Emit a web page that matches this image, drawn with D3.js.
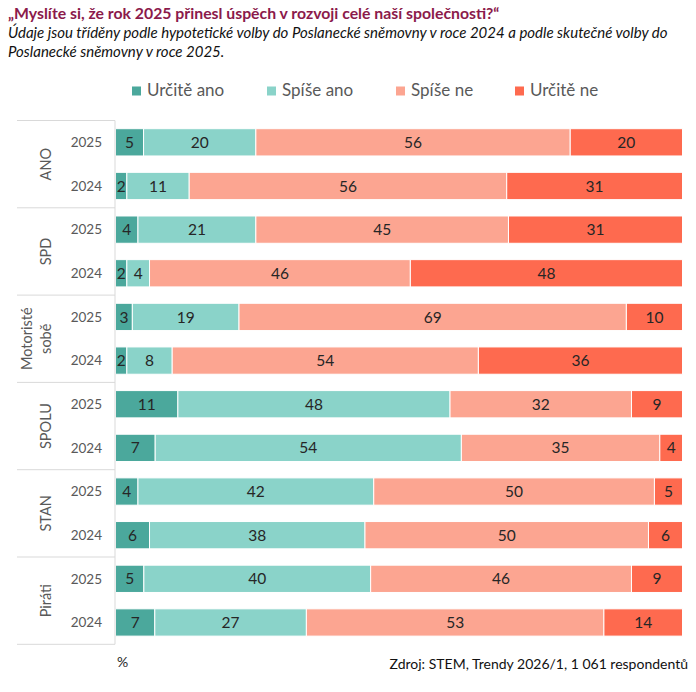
<!DOCTYPE html>
<html>
<head>
<meta charset="utf-8">
<script src="https://cdn.jsdelivr.net/npm/d3@7"></script>
<style>
  body { margin: 0; background: #fff; }
  svg { font-family: Lato, "Open Sans", sans-serif; }
</style>
</head>
<body>
<div id="chart"></div>
<script>
var groups = ["ANO", "SPD", "Motoristé sobě", "SPOLU", "STAN", "Piráti"];
var years = ["2025", "2024"];
var categories = ["Určitě ano", "Spíše ano", "Spíše ne", "Určitě ne"];

// one value per row, rows go group by group, 2025 first
var urciteAno = [5, 2, 4, 2, 3, 2, 11, 7, 4, 6, 5, 7];
var spiseAno  = [20, 11, 21, 4, 19, 8, 48, 54, 42, 38, 40, 27];
var spiseNe   = [56, 56, 45, 46, 69, 54, 32, 35, 50, 50, 46, 53];
var urciteNe  = [20, 31, 31, 48, 10, 36, 9, 4, 5, 6, 9, 14];

var colors = ["#4ba89c", "#8ad3c9", "#fca591", "#fe6a4f"];

var W = 696, H = 692;
var svg = d3.select("#chart").append("svg")
  .attr("width", W).attr("height", H);

// build rows
var rows = [];
groups.forEach(function(g, gi) {
  years.forEach(function(yr, yi) {
    var i = gi * 2 + yi;
    rows.push({
      key: g + "|" + yr, group: g, year: yr,
      "Určitě ano": urciteAno[i], "Spíše ano": spiseAno[i],
      "Spíše ne": spiseNe[i], "Určitě ne": urciteNe[i]
    });
  });
});

var plotTop = 120.5, plotBottom = 644.3, plotLeft = 115.5, plotRight = 682.5;

var y = d3.scaleBand()
  .domain(rows.map(function(d) { return d.key; }))
  .range([plotTop, plotBottom])
  .paddingInner(0.375)
  .paddingOuter(0.1875);

var x = d3.scaleLinear().domain([0, 1]).range([plotLeft, plotRight]);
var z = d3.scaleOrdinal().domain(categories).range(colors);

var stack = d3.stack().keys(categories).offset(d3.stackOffsetExpand);
var series = stack(rows);

// title
svg.append("text")
  .attr("x", 8).attr("y", 19)
  .style("font-size", "15.8px").style("font-weight", "bold")
  .style("fill", "#8b1a4b")
  .text("„Myslíte si, že rok 2025 přinesl úspěch v rozvoji celé naší společnosti?“");

svg.append("text")
  .attr("x", 8).attr("y", 38)
  .style("font-size", "15px").style("font-style", "italic").style("fill", "#111")
  .text("Údaje jsou tříděny podle hypotetické volby do Poslanecké sněmovny v roce 2024 a podle skutečné volby do");
svg.append("text")
  .attr("x", 8).attr("y", 57)
  .style("font-size", "15px").style("font-style", "italic").style("fill", "#111")
  .text("Poslanecké sněmovny v roce 2025.");

// legend
var legendX = [132, 267, 396, 515];
var legend = svg.selectAll(".legend")
  .data(categories)
  .enter().append("g")
  .attr("class", "legend")
  .attr("transform", function(d, i) { return "translate(" + legendX[i] + ",0)"; });

legend.append("rect")
  .attr("x", 0).attr("y", 86.5)
  .attr("width", 9).attr("height", 9)
  .attr("fill", function(d) { return z(d); });

legend.append("text")
  .attr("x", 15).attr("y", 96)
  .style("font-size", "17px").style("fill", "#595959")
  .text(function(d) { return d; });

// bars
var layer = svg.selectAll(".layer")
  .data(series)
  .enter().append("g")
  .attr("class", "layer")
  .attr("fill", function(d) { return z(d.key); });

layer.selectAll("rect")
  .data(function(d) { return d; })
  .enter().append("rect")
  .attr("x", function(d) { return x(d[0]); })
  .attr("y", function(d) { return y(d.data.key); })
  .attr("width", function(d) { return x(d[1]) - x(d[0]); })
  .attr("height", y.bandwidth())
  .attr("stroke", "#fff")
  .attr("stroke-width", 1);

layer.selectAll("text")
  .data(function(d) { return d.map(function(e) { e.cat = d.key; return e; }); })
  .enter().append("text")
  .attr("x", function(d) { return (x(d[0]) + x(d[1])) / 2; })
  .attr("y", function(d) { return y(d.data.key) + y.bandwidth() / 2; })
  .attr("dy", "0.36em")
  .attr("text-anchor", "middle")
  .style("font-size", "15.5px").style("fill", "#262626")
  .text(function(d) { return d.data[d.cat]; });

// left axis with groups
var axisColor = "#d9d9d9";
svg.append("line")
  .attr("x1", plotLeft - 0.5).attr("x2", plotLeft - 0.5)
  .attr("y1", plotTop).attr("y2", plotBottom)
  .attr("stroke", axisColor);

var step = y.step();
var bounds = d3.range(groups.length + 1).map(function(i) { return plotTop + i * 2 * step; });
svg.selectAll(".sep")
  .data(bounds)
  .enter().append("line")
  .attr("class", "sep")
  .attr("x1", 17).attr("x2", plotLeft - 0.5)
  .attr("y1", function(d) { return d; }).attr("y2", function(d) { return d; })
  .attr("stroke", axisColor);

svg.selectAll(".yr")
  .data(rows)
  .enter().append("text")
  .attr("class", "yr")
  .attr("x", 102)
  .attr("y", function(d) { return y(d.key) + y.bandwidth() / 2; })
  .attr("dy", "0.36em")
  .attr("text-anchor", "end")
  .style("font-size", "13.5px").style("fill", "#595959")
  .text(function(d) { return d.year; });

var gl = svg.selectAll(".grp")
  .data(groups)
  .enter().append("text")
  .attr("class", "grp")
  .attr("transform", function(d, i) {
    var cy = (bounds[i] + bounds[i + 1]) / 2;
    return "translate(46," + cy + ")rotate(-90)";
  })
  .attr("text-anchor", "middle")
  .style("font-size", "14.5px").style("fill", "#595959");

gl.each(function(d) {
  var parts = d.split(" ");
  var t = d3.select(this);
  parts.forEach(function(p, j) {
    t.append("tspan")
      .attr("x", 0)
      .attr("y", (j - (parts.length - 1)) * 19)
      .attr("dy", "0.36em")
      .text(p);
  });
});

// footer
svg.append("text")
  .attr("x", 117).attr("y", 667)
  .style("font-size", "14px").style("fill", "#262626")
  .text("%");

svg.append("text")
  .attr("x", 688).attr("y", 669)
  .attr("text-anchor", "end")
  .style("font-size", "14px").style("fill", "#111")
  .text("Zdroj: STEM, Trendy 2026/1, 1 061 respondentů");
</script>
</body>
</html>
